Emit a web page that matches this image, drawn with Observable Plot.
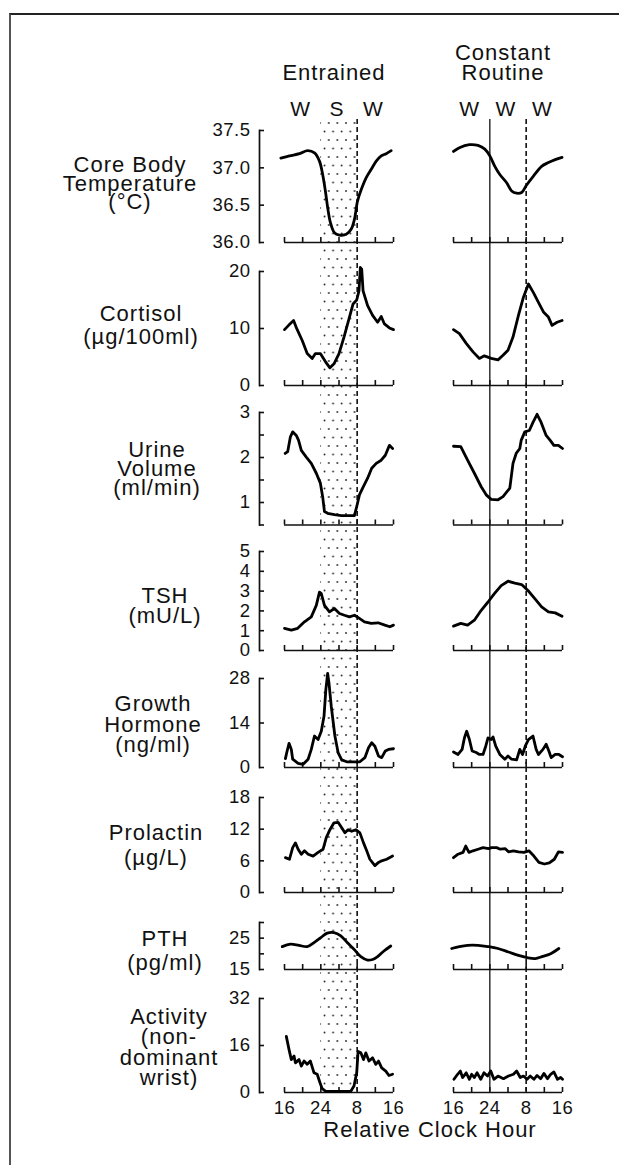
<!DOCTYPE html>
<html>
<head>
<meta charset="utf-8">
<script src="https://cdn.jsdelivr.net/npm/d3@7"></script>
<script src="https://cdn.jsdelivr.net/npm/@observablehq/plot@0.6"></script>
<style>
html, body { margin: 0; padding: 0; background: #fff; }
#fig { position: relative; width: 619px; height: 1165px; overflow: hidden;
       font-family: "Liberation Sans", Arial, Helvetica, sans-serif; color: #111; }
#frame { position: absolute; left: 9px; top: 13px; width: 640px; height: 1200px;
         border-top: 2px solid #222; border-left: 2px solid #555; }
#fig svg { position: absolute; left: 0; }
.lab { position: absolute; transform: translate(-50%, -50%); white-space: nowrap;
       font-size: 22px; line-height: 16px; letter-spacing: 1px; text-align: center; }
</style>
</head>
<body>
<div id="fig"><div id="frame"></div></div>
<script>
// ---------- data ----------
const hourTicks = [16, 20, 24, 28, 32, 36, 40];     // relative clock hour (24 = midnight, 32 = 08:00)
const hourLabels = [16, 24, 32, 40];
const sleepSpan = [24, 32];                          // entrained sleep episode
const stateHours = [20, 28, 36];
const entrainedStates = ["W", "S", "W"];
const constantStates = ["W", "W", "W"];
const columnTitles = [["Entrained"], ["Constant", "Routine"]];
const axisTitle = "Relative Clock Hour";

const variableNames = [
  ["Core Body", "Temperature", "(°C)"],
  ["Cortisol", "(µg/100ml)"],
  ["Urine", "Volume", "(ml/min)"],
  ["TSH", "(mU/L)"],
  ["Growth", "Hormone", "(ng/ml)"],
  ["Prolactin", "(µg/L)"],
  ["PTH", "(pg/ml)"],
  ["Activity", "(non-", "dominant", "wrist)"]
];
const yDomains = [[36, 37.5], [0, 20], [0.5, 3], [0, 5], [0, 28], [0, 18], [15, 30], [0, 32]];
const yTicks = [[36, 36.5, 37, 37.5], [0, 10, 20], [0.5, 1, 1.5, 2, 2.5, 3], [0, 1, 2, 3, 4, 5],
                [0, 14, 28], [0, 6, 12, 18], [15, 20, 25, 30], [0, 16, 32]];
const yLabels = [[36, 36.5, 37, 37.5], [0, 10, 20], [1, 2, 3], [0, 1, 2, 3, 4, 5],
                 [0, 14, 28], [0, 6, 12, 18], [15, 25], [0, 16, 32]];

const tempEntrained = [[15.2,37.13],[17.1,37.16],[19.3,37.19],[21.1,37.23],[22.6,37.2],[23.7,37.09],[24.4,36.91],[25.0,36.69],[25.5,36.47],[26.1,36.27],[27.0,36.13],[28.1,36.1],[29.6,36.11],[30.7,36.18],[31.4,36.31],[32.1,36.56],[32.9,36.71],[34.0,36.87],[35.1,36.98],[36.2,37.09],[37.3,37.16],[38.4,37.19],[39.5,37.23]];
const tempConstant = [[16,37.22],[17.3,37.27],[19.5,37.31],[21.4,37.3],[22.9,37.25],[24.0,37.16],[25.1,37.02],[26.2,36.91],[27.7,36.8],[28.8,36.69],[29.9,36.66],[31.0,36.67],[32.1,36.77],[33.6,36.89],[35.4,37.02],[36.9,37.07],[38.4,37.11],[39.9,37.14]];
const cortisolEntrained = [[16,9.8],[16.9,10.55],[18.0,11.4],[18.7,9.97],[19.9,7.9],[21.0,5.6],[22.1,4.75],[22.8,5.6],[23.9,5.6],[25.0,4.2],[26.0,3.1],[26.9,3.8],[28.0,5.6],[29.1,8.5],[30.2,11.7],[31.1,14.3],[31.9,15.0],[32.4,16.6],[32.7,20.7],[33.0,20.4],[33.3,16.6],[34.3,14.0],[35.4,12.3],[36.5,11.1],[37.3,12.1],[38.0,10.8],[39.1,10.1],[40,9.8]];
const cortisolConstant = [[16,9.8],[17.3,9.1],[18.8,7.4],[20.3,5.9],[21.7,4.75],[22.8,5.2],[24.3,4.75],[25.8,4.5],[26.9,5.3],[28.0,6.2],[29.1,8.5],[30.3,12.3],[31.4,15.5],[32.5,17.8],[33.6,16.3],[34.7,14.6],[35.8,12.9],[36.9,12.0],[37.7,10.55],[38.8,11.1],[39.9,11.4]];
const urineEntrained = [[16.15,2.09],[16.7,2.13],[17.3,2.46],[17.8,2.57],[18.6,2.49],[19.1,2.38],[19.7,2.16],[20.8,2.01],[21.9,1.87],[23.0,1.65],[23.9,1.43],[24.4,1.13],[24.8,0.8],[25.5,0.76],[27.0,0.73],[28.5,0.71],[29.9,0.71],[31.4,0.71],[32.0,0.95],[32.5,1.17],[33.2,1.32],[34.3,1.54],[35.2,1.76],[36.2,1.87],[37.3,1.94],[38.2,2.05],[39.1,2.27],[39.8,2.2]];
const urineConstant = [[16,2.25],[17.6,2.24],[19.1,1.94],[20.6,1.65],[22.1,1.35],[23.2,1.17],[24.3,1.07],[25.8,1.06],[26.9,1.13],[28.4,1.32],[29.1,1.87],[29.8,2.09],[30.6,2.2],[30.9,2.38],[31.7,2.57],[32.7,2.6],[33.5,2.78],[34.4,2.96],[35.3,2.78],[36.4,2.49],[37.3,2.38],[38.1,2.27],[39.1,2.27],[40,2.2]];
const tshEntrained = [[16,1.12],[17.5,1.03],[18.9,1.12],[20.4,1.45],[21.9,1.7],[23.0,2.28],[23.7,2.95],[24.1,2.87],[24.8,2.28],[25.9,1.95],[27.0,2.12],[28.1,1.87],[29.2,1.78],[30.3,1.7],[31.4,1.78],[32.5,1.62],[33.6,1.45],[35.1,1.37],[36.6,1.4],[38.1,1.28],[39.2,1.2],[40,1.28]];
const tshConstant = [[16,1.23],[17.6,1.37],[19.1,1.28],[20.6,1.53],[22.1,2.03],[23.6,2.45],[25.0,2.87],[26.5,3.28],[28.0,3.5],[29.5,3.4],[31.0,3.33],[32.4,3.03],[33.9,2.62],[35.4,2.2],[36.9,1.95],[38.4,1.9],[39.9,1.73]];
const ghEntrained = [[16.2,2.8],[16.5,4.7],[17.0,7.6],[17.5,5.7],[17.8,2.6],[19.0,1.3],[20.1,1.0],[21.2,2.6],[21.9,5.7],[22.6,9.9],[23.4,8.8],[24.1,11.4],[24.7,16.1],[25.1,24.4],[25.5,29.6],[25.8,26.5],[26.3,19.2],[27.1,9.9],[27.8,4.7],[28.6,2.4],[29.7,1.8],[31.1,1.8],[32.6,1.8],[33.7,3.1],[34.5,6.2],[35.2,7.8],[35.9,6.7],[36.7,3.6],[37.4,3.1],[38.2,5.2],[38.9,5.7],[40,5.9]];
const ghConstant = [[16,4.9],[17.0,4.1],[17.9,5.7],[18.4,9.3],[18.9,11.4],[19.5,8.8],[20.1,5.2],[21.0,4.7],[21.7,4.1],[22.5,4.1],[23.1,6.7],[23.6,9.3],[24.3,8.8],[24.7,9.6],[25.3,6.7],[26.2,4.1],[27.3,2.6],[28.0,3.6],[28.8,2.6],[29.9,2.4],[30.6,5.7],[31.2,4.1],[31.8,6.7],[32.5,8.8],[33.5,9.9],[34.2,5.7],[34.7,4.1],[35.7,5.7],[36.4,7.3],[37.0,5.2],[37.5,3.1],[38.4,4.1],[39.2,4.1],[40,3.4]];
const prolactinEntrained = [[16.2,6.6],[17.1,6.3],[17.8,8.5],[18.4,9.4],[19.0,8.2],[19.7,7.25],[20.4,7.9],[21.2,7.25],[22.3,6.9],[23.4,7.6],[24.5,8.2],[25.2,10.4],[26.0,11.9],[26.9,13.2],[27.8,13.3],[28.6,12.25],[29.3,11.3],[30.0,11.9],[30.8,11.6],[31.7,11.9],[32.6,11.3],[33.4,9.4],[34.1,7.9],[34.8,6.3],[35.9,5.1],[36.7,5.7],[37.4,6.0],[38.5,6.3],[39.8,6.9]];
const prolactinConstant = [[16,6.6],[17.0,7.25],[18.1,7.6],[18.7,8.8],[19.4,7.6],[20.3,7.9],[21.4,8.2],[22.5,8.5],[23.7,8.3],[24.4,8.5],[25.5,8.5],[26.3,8.2],[27.4,8.3],[28.1,7.7],[29.2,7.9],[30.3,7.7],[31.5,7.6],[32.6,7.9],[33.7,6.9],[34.8,5.7],[36.0,5.4],[37.1,5.6],[38.2,6.3],[39.1,7.7],[40,7.6]];
const pthEntrained = [[15.5,22.3],[17.3,23.1],[19.2,22.7],[21.0,22.3],[22.5,23.6],[24.0,25.2],[25.4,26.6],[26.9,26.8],[28.4,25.75],[29.8,23.6],[31.3,21.45],[32.8,19.1],[34.3,18.0],[35.4,18.2],[36.5,19.1],[37.9,20.9],[39.4,22.5]];
const pthConstant = [[15.6,21.7],[17.3,22.3],[19.1,22.7],[21.4,22.7],[23.6,22.3],[25.8,21.7],[28.1,20.6],[30.3,19.5],[32.2,18.8],[34.0,18.5],[35.5,19.1],[37.4,20.05],[39.2,21.7]];
const activityEntrained = [[16.4,19.1],[17.0,14.6],[17.5,11.2],[18.1,12.4],[18.4,10.1],[19.2,11.2],[19.7,9.0],[20.3,10.7],[21.0,9.6],[21.7,10.7],[22.5,6.7],[23.2,6.2],[23.8,3.4],[24.3,1.3],[25.1,0.4],[27.6,0.4],[30.6,0.4],[31.3,2.2],[31.9,6.7],[32.2,14.0],[32.8,13.5],[33.4,11.2],[33.9,13.5],[34.6,10.7],[35.4,11.8],[36.1,9.6],[36.7,10.7],[37.4,8.4],[38.3,7.3],[39.0,5.8],[39.8,6.2]];
const activityConstant = [[16.1,4.5],[16.9,6.2],[17.5,7.3],[18.0,5.1],[18.8,6.7],[19.5,4.5],[20.0,6.2],[20.6,5.1],[21.2,6.7],[22.0,4.5],[22.7,6.7],[23.5,5.6],[24.2,7.3],[24.9,4.5],[25.8,5.6],[27.0,4.7],[28.1,5.6],[29.2,6.2],[29.9,7.3],[30.7,5.1],[31.4,5.6],[32.2,4.5],[32.9,5.6],[33.7,4.5],[34.4,5.8],[35.2,4.7],[35.9,6.5],[36.7,4.7],[37.4,6.2],[38.1,7.0],[38.9,4.5],[39.6,5.1],[40,4.5]];

const entrainedSeries = [tempEntrained, cortisolEntrained, urineEntrained, tshEntrained, ghEntrained, prolactinEntrained, pthEntrained, activityEntrained];
const constantSeries = [tempConstant, cortisolConstant, urineConstant, tshConstant, ghConstant, prolactinConstant, pthConstant, activityConstant];

// ---------- layout (pixels) ----------
const W = 619, H = 1165;
const colL = {spine: 259, x0: 284, x1: 393};
const colR = {x0: 453, x1: 562};
const rowTop = [129.5, 271, 411.5, 550.5, 678, 797, 922, 998];
const rowBottom = [241.5, 385, 524, 649.5, 767, 892, 969, 1092];
const labelX = [130, 141, 157, 165, 153, 156, 165, 169];
const labelY = [165, 314, 450, 596, 704, 833, 939, 1017];
const labelStep = [18.5, 23, 19, 20, 20.5, 25, 24, 20.3];
const guideTop = 119, guideBottom = 1091;
const titleY = [[72.5], [52.5, 72.5]];   // header line centres
const smooth = [true, false, false, false, false, false, true, false];
const tickFmt = [d => d.toFixed(1), String, String, String, String, String, String, String];

const FONT = '"Liberation Sans", Arial, Helvetica, sans-serif';
const baseStyle = {background: "transparent", fontFamily: FONT, fontSize: "18.5px",
                   letterSpacing: "0.5px", color: "#111", overflow: "visible"};
const fig = document.getElementById("fig");
const hourFmt = h => String(h % 24 === 0 ? 24 : h % 24);
const [h0, h1] = d3.extent(hourTicks);

function xScale(left) {
  return {domain: [h0, h1], insetLeft: left ? colL.x0 - colL.spine : 0, axis: null};
}
function margins(left) {
  return left
    ? {marginLeft: colL.spine, marginRight: W - colL.x1}
    : {marginLeft: colR.x0, marginRight: W - colR.x1};
}

// ---------- guides (sleep band, reference lines, headers) ----------
for (const left of [true, false]) {
  const c = left ? 0 : 1;
  const marks = [];
  if (left) {
    marks.push(Plot.rect([sleepSpan], {x1: d => d[0], x2: d => d[1], fill: "url(#dots)"}));
  } else {
    marks.push(Plot.ruleX([sleepSpan[0]], {stroke: "#111", strokeWidth: 1.3}));
  }
  marks.push(Plot.ruleX([sleepSpan[1]], {stroke: "#111", strokeWidth: 1.6, strokeDasharray: "5,3"}));
  columnTitles[c].forEach((line, k) => {
    marks.push(Plot.text([line], {
      x: d3.mean(hourTicks), frameAnchor: "top", dx: -5, dy: titleY[c][k] - guideTop,
      lineAnchor: "middle", fontSize: 22, fill: "#111"
    }));
  });
  marks.push(Plot.text(left ? entrainedStates : constantStates, {
    x: (d, i) => stateHours[i], frameAnchor: "top", dx: -2, dy: -10,
    lineAnchor: "middle", fontSize: 21, fill: "#111"
  }));
  const svg = Plot.plot({
    width: W, height: H, marginTop: guideTop, marginBottom: H - guideBottom,
    ...margins(left), x: xScale(left),
    style: {...baseStyle, letterSpacing: "1px"},
    marks
  });
  if (left) {
    const pat = d3.select(svg).insert("defs", ":first-child")
      .append("pattern").attr("id", "dots").attr("patternUnits", "userSpaceOnUse")
      .attr("width", 8.6).attr("height", 17);
    pat.append("circle").attr("cx", 2).attr("cy", 4).attr("r", 0.9).attr("fill", "#222");
    pat.append("circle").attr("cx", 6.3).attr("cy", 12.5).attr("r", 0.9).attr("fill", "#222");
  }
  svg.style.top = "0px";
  fig.appendChild(svg);
}

// ---------- panels ----------
variableNames.forEach((name, i) => {
  const last = i === variableNames.length - 1;
  const mt = 16, mb = last ? 40 : 16;
  const height = rowBottom[i] - rowTop[i] + mt + mb;
  for (const left of [true, false]) {
    const pts = (left ? entrainedSeries[i] : constantSeries[i]).map(([h, v]) => ({h, v}));
    const marks = [
      Plot.ruleY([yDomains[i][0]], {x1: h0, x2: h1, stroke: "#111", strokeWidth: 1.7}),
      Plot.axisX(hourTicks, {tickSize: -5, tickFormat: () => "", strokeWidth: 1.6, label: null}),
      Plot.line(pts, {x: "h", y: "v", stroke: "#000", strokeWidth: 2.8,
                      curve: smooth[i] ? "catmull-rom" : "linear",
                      strokeLinejoin: "round", strokeLinecap: "round"})
    ];
    if (last) {
      marks.push(Plot.axisX(hourLabels, {tickSize: 0, tickPadding: 8, tickFormat: hourFmt, label: null}));
    }
    if (left) {
      marks.push(Plot.frame({anchor: "left", stroke: "#111", strokeWidth: 1.7}));
      marks.push(Plot.axisY(yTicks[i], {tickSize: -5, tickFormat: () => "", strokeWidth: 1.6, label: null}));
      marks.push(Plot.axisY(yLabels[i], {tickSize: 0, tickPadding: 9, tickFormat: tickFmt[i], label: null}));
    }
    const svg = Plot.plot({
      width: W, height, marginTop: mt, marginBottom: mb,
      ...margins(left), x: xScale(left),
      y: {domain: yDomains[i], axis: null},
      style: baseStyle,
      marks
    });
    svg.style.top = (rowTop[i] - mt) + "px";
    fig.appendChild(svg);
  }
  // variable label, one element per line
  name.forEach((line, k) => {
    const d = document.createElement("div");
    d.className = "lab";
    d.textContent = line;
    d.style.left = labelX[i] + "px";
    d.style.top = (labelY[i] + k * labelStep[i]) + "px";
    fig.appendChild(d);
  });
});

// x-axis title
const t = document.createElement("div");
t.className = "lab";
t.textContent = axisTitle;
t.style.left = "430px";
t.style.top = "1130px";
fig.appendChild(t);
</script>
</body>
</html>
